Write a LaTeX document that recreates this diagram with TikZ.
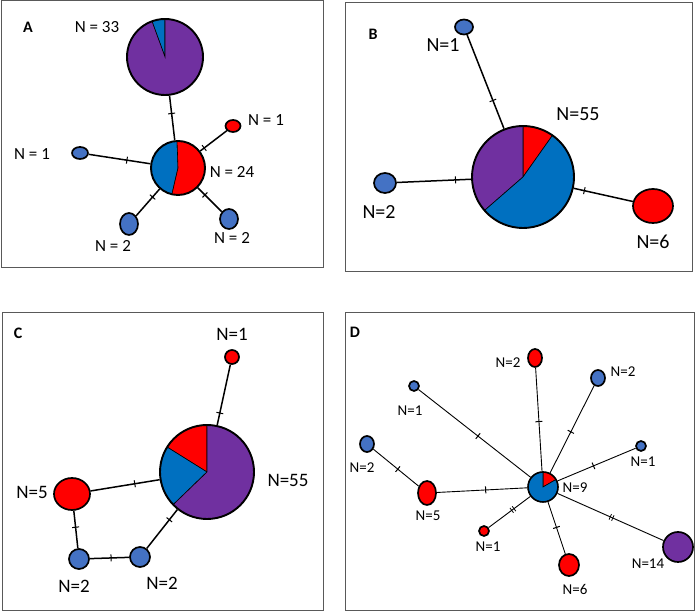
\documentclass[tikz,border=0pt]{standalone}
\usepackage{fontspec}
\setmainfont{Carlito}
\usepackage{tikz}
\usetikzlibrary{shapes.geometric,backgrounds,decorations.markings}
\definecolor{hapPurple}{HTML}{7030A0}
\definecolor{hapBlue}{HTML}{0070C0}
\definecolor{dotBlue}{HTML}{4472C4}
\definecolor{hapRed}{HTML}{FF0000}
\tikzset{
  panel/.style    ={draw=black!65,line width=1pt},
  tag/.style      ={font=\fontsize{16}{18}\selectfont\bfseries,inner sep=0pt},
  lab/.style      ={inner sep=0pt,font=\fontsize{#1}{#1}\selectfont},
  lab/.default    =17,
  hap/.style      ={ellipse,draw,line width=1.7pt,inner sep=0pt},
  pie/.style      ={circle,draw,line width=1.9pt,inner sep=0pt,minimum size=#1},
  link/.style     ={line width=1.5pt},
  thinlink/.style ={line width=0.9pt},
  onetick/.style  ={postaction={decorate,decoration={markings,
                    mark=at position #1 with {\draw[line width=1pt] (0,-3.5) -- (0,3.5);}}}},
  twotick/.style  ={postaction={decorate,decoration={markings,
                    mark=at position #1 with {\draw[line width=0.8pt] (-1.4,-3) -- (-1.4,3) (1.4,-3) -- (1.4,3);}}}},
}
% node, radius, start, end, colour
\newcommand{\hapslice}[5]{%
  \filldraw[fill=#5,draw=black,line width=0.6pt] (#1.center) -- ++(#3:#2)
    arc[start angle=#3,end angle=#4,radius=#2] -- cycle;}

\begin{document}
\begin{tikzpicture}[x=1pt,y=1pt]
\useasboundingbox (0,0) rectangle (696,612);

% A
\draw[panel] (1,344) rectangle (323,611);
\node[tag] (tagA) at (28,585) {A};
\node[pie=76] (a33) at (165,555) {};
\node[pie=54] (a24) at (178,444) {};
\node[hap,fill=hapRed,minimum width=15,minimum height=12] (a1r) at (233,486) {};
\node[hap,fill=dotBlue,minimum width=16,minimum height=12] (a1l) at (80,459) {};
\node[hap,fill=dotBlue,minimum width=18,minimum height=22] (a2l) at (129,388) {};
\node[hap,fill=dotBlue,minimum width=18,minimum height=20] (a2r) at (229,393) {};
\node[lab] (la33) at (97,585) {N = 33};
\node[lab] (la24) at (232,440) {N = 24};
\node[lab] (la1r) at (266,492) {N = 1};
\node[lab] (la1l) at (32,458) {N = 1};
\node[lab] (la2l) at (113,366) {N = 2};
\node[lab] (la2r) at (232,374) {N = 2};
\draw[link,onetick=0.4] (a33) -- (a24);
\draw[link,onetick=0.15] (a24) -- (a1r);
\draw[link,onetick=0.62] (a1l) -- (a24);
\draw[link,onetick=0.7] (a2l) -- (a24);
\draw[link,onetick=0.7] (a2r) -- (a24);

% B
\draw[panel] (345,340) rectangle (692,609);
\node[tag] (tagB) at (373,578) {B};
\node[pie=102] (b55) at (523,435) {};
\node[hap,fill=dotBlue,minimum width=18,minimum height=15] (b1) at (464,585) {};
\node[hap,fill=dotBlue,minimum width=22,minimum height=20] (b2) at (385,429) {};
\node[hap,fill=hapRed,minimum width=40,minimum height=34] (b6) at (653,406) {};
\node[lab=20] (lb1) at (443,567) {N=1};
\node[lab=20] (lb55) at (578,498) {N=55};
\node[lab=20] (lb2) at (379,400) {N=2};
\node[lab=20] (lb6) at (653,370) {N=6};
\draw[link,onetick=0.7] (b1) -- (b55);
\draw[link,onetick=0.79] (b2) -- (b55);
\draw[link,onetick=0.18] (b55) -- (b6);

% C
\draw[panel] (2,1) rectangle (323,299);
\node[tag] (tagC) at (18,279) {C};
\node[pie=94] (c55) at (207,140) {};
\node[hap,fill=hapRed,minimum width=14,minimum height=14] (c1) at (232,255) {};
\node[hap,fill=hapRed,minimum width=36,minimum height=32] (c5) at (72,118) {};
\node[hap,fill=dotBlue,minimum width=20,minimum height=20] (c2l) at (79,53) {};
\node[hap,fill=dotBlue,minimum width=20,minimum height=20] (c2r) at (140,55) {};
\node[lab=19] (lc1) at (232,278) {N=1};
\node[lab=19] (lc55) at (288,132) {N=55};
\node[lab=19] (lc5) at (32,120) {N=5};
\node[lab=19] (lc2l) at (74,26) {N=2};
\node[lab=19] (lc2r) at (162,29) {N=2};
\draw[link,onetick=0.8] (c1) -- (c55);
\draw[link,onetick=0.64] (c5) -- (c55);
\draw[link,onetick=0.44] (c5) -- (c2l);
\draw[link,onetick=0.54] (c2l) -- (c2r);
\draw[link,onetick=0.74] (c2r) -- (c55);

% D
\draw[panel] (345,1) rectangle (694,299);
\node[tag] (tagD) at (355,280) {D};
\node[pie=30,line width=1.6pt] (d9) at (543,125) {};
\node[hap,fill=hapRed,minimum width=14,minimum height=18] (d2t) at (535,254) {};
\node[hap,fill=dotBlue,minimum width=14,minimum height=16] (d2ur) at (598,234) {};
\node[hap,fill=dotBlue,minimum width=10,minimum height=10] (d1ul) at (414,226) {};
\node[hap,fill=dotBlue,minimum width=14,minimum height=16] (d2l) at (367,168) {};
\node[hap,fill=hapRed,minimum width=18,minimum height=24] (d5) at (427,119) {};
\node[hap,fill=dotBlue,minimum width=10,minimum height=10] (d1r) at (641,166) {};
\node[hap,fill=hapRed,minimum width=10,minimum height=10] (d1lo) at (484,81) {};
\node[hap,fill=hapRed,minimum width=20,minimum height=22] (d6) at (569,47) {};
\node[hap,fill=hapPurple,minimum width=30,minimum height=30] (d14) at (678,65) {};
\node[lab=15] (ld9) at (575,124) {N=9};
\node[lab=15] (ld2t) at (508,249) {N=2};
\node[lab=15] (ld2ur) at (623,240) {N=2};
\node[lab=15] (ld1ul) at (410,201) {N=1};
\node[lab=15] (ld2l) at (362,144) {N=2};
\node[lab=15] (ld5) at (428,96) {N=5};
\node[lab=15] (ld1r) at (643,150) {N=1};
\node[lab=15] (ld1lo) at (488,65) {N=1};
\node[lab=15] (ld6) at (575,23) {N=6};
\node[lab=15] (ld14) at (648,48) {N=14};
\draw[thinlink,onetick=0.52] (d2t) -- (d9);
\draw[thinlink,onetick=0.53] (d2ur) -- (d9);
\draw[thinlink,onetick=0.53] (d1ul) -- (d9);
\draw[thinlink,onetick=0.54] (d2l) -- (d5);
\draw[thinlink,onetick=0.54] (d5) -- (d9);
\draw[thinlink,onetick=0.54] (d1r) -- (d9);
\draw[thinlink,twotick=0.58] (d1lo) -- (d9);
\draw[thinlink,onetick=0.51] (d6) -- (d9);
\draw[thinlink,twotick=0.49] (d14) -- (d9);

% pie slices
\begin{scope}[on background layer]
\hapslice{a33}{38}{90}{110}{hapBlue}
\hapslice{a33}{38}{110}{450}{hapPurple}
\hapslice{a24}{27}{92}{257}{hapBlue}
\hapslice{a24}{27}{-103}{92}{hapRed}
\hapslice{b55}{51}{54.7}{90}{hapRed}
\hapslice{b55}{51}{90}{221}{hapPurple}
\hapslice{b55}{51}{221}{414.7}{hapBlue}
\hapslice{c55}{47}{90}{148}{hapRed}
\hapslice{c55}{47}{148}{224}{hapBlue}
\hapslice{c55}{47}{224}{450}{hapPurple}
\hapslice{d9}{15}{30}{90}{hapRed}
\hapslice{d9}{15}{90}{390}{hapBlue}
\end{scope}

\end{tikzpicture}
\end{document}
